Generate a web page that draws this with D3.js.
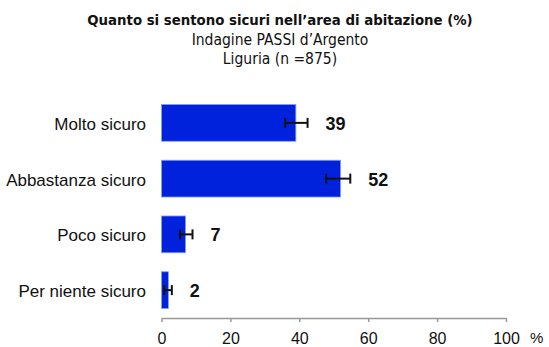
<!DOCTYPE html>
<html>
<head>
<meta charset="utf-8">
<script src="https://cdn.jsdelivr.net/npm/d3@7"></script>
<style>
  html, body { margin: 0; padding: 0; background: #fff; }
  svg { display: block; }
</style>
</head>
<body>
<script>
// Survey categories, percentages and 95% confidence limits
const categories = ["Molto sicuro", "Abbastanza sicuro", "Poco sicuro", "Per niente sicuro"];
const values = [39, 52, 7, 2];
const ciLow = [35.9, 47.8, 5.4, 0.8];
const ciHigh = [42.4, 54.8, 9.0, 3.0];
const xTicks = [0, 20, 40, 60, 80, 100];

const titleLines = [
  "Quanto si sentono sicuri nell\u2019area di abitazione (%)",
  "Indagine PASSI d\u2019Argento",
  "Liguria (n  =875)"
];

const W = 549, H = 347;
const svg = d3.select("body").append("svg").attr("width", W).attr("height", H);

const x = d3.scaleLinear().domain([0, 100]).range([161.5, 506]);
const y = d3.scaleBand().domain(categories).range([95, 318]).paddingInner(0.34).paddingOuter(0.17);

const titleFont = "'DejaVu Sans Condensed', 'Liberation Sans Narrow', sans-serif";
const labelFont = "'Liberation Sans', Arial, sans-serif";
const cx = 280;
svg.append("text").attr("x", cx).attr("y", 25).attr("text-anchor", "middle")
  .style("font-family", titleFont).style("font-weight", "bold").style("font-size", "14.8px")
  .attr("fill", "#111").text(titleLines[0]);
svg.append("text").attr("x", cx).attr("y", 45).attr("text-anchor", "middle")
  .style("font-family", titleFont).style("font-size", "15.5px")
  .attr("fill", "#111").text(titleLines[1]);
svg.append("text").attr("x", cx).attr("y", 64).attr("text-anchor", "middle")
  .style("font-family", titleFont).style("font-size", "15.5px")
  .attr("fill", "#111").text(titleLines[2]);

const rows = categories.map((c, i) => ({ c, v: values[i], lo: ciLow[i], hi: ciHigh[i] }));

// Bars
svg.append("g").selectAll("rect").data(rows).join("rect")
  .attr("x", x(0))
  .attr("y", d => y(d.c))
  .attr("width", d => x(d.v) - x(0))
  .attr("height", y.bandwidth())
  .attr("fill", "#0022dd")
  .attr("stroke", "#8aa0f2")
  .attr("stroke-width", 0.8);

// Confidence interval whiskers
const eg = svg.append("g").attr("stroke", "#111").attr("stroke-width", 2);
rows.forEach(d => {
  const cy = y(d.c) + y.bandwidth() / 2;
  eg.append("line").attr("x1", x(d.lo)).attr("x2", x(d.hi)).attr("y1", cy).attr("y2", cy);
  eg.append("line").attr("x1", x(d.lo)).attr("x2", x(d.lo)).attr("y1", cy - 5).attr("y2", cy + 5);
  eg.append("line").attr("x1", x(d.hi)).attr("x2", x(d.hi)).attr("y1", cy - 5).attr("y2", cy + 5);
});

// Value labels
svg.append("g").selectAll("text").data(rows).join("text")
  .attr("x", d => x(d.hi) + 18)
  .attr("y", d => y(d.c) + y.bandwidth() / 2 + 7)
  .style("font-family", labelFont)
  .style("font-weight", "bold").style("font-size", "18px")
  .attr("fill", "#111")
  .text(d => d.v);

// Category labels
svg.append("g").selectAll("text").data(rows).join("text")
  .attr("x", 146)
  .attr("y", d => y(d.c) + y.bandwidth() / 2 + 7)
  .attr("text-anchor", "end")
  .style("font-family", labelFont)
  .style("font-size", "17px")
  .attr("fill", "#111")
  .text(d => d.c);

// X axis
const axis = svg.append("g").attr("transform", "translate(0,318)")
  .call(d3.axisBottom(x).tickValues(xTicks).tickSize(4).tickPadding(10.5).tickSizeOuter(0));
axis.select(".domain").attr("stroke", "#999").attr("stroke-width", 1.5);
axis.selectAll(".tick line").attr("stroke", "#999").attr("stroke-width", 1.5);
axis.selectAll(".tick text")
  .style("font-family", labelFont)
  .style("font-size", "16px").attr("fill", "#111");

// Unit label beside the last tick
svg.append("text").attr("x", 530).attr("y", 343)
  .style("font-family", labelFont)
  .style("font-size", "15px").attr("fill", "#111").text("%");
</script>
</body>
</html>
